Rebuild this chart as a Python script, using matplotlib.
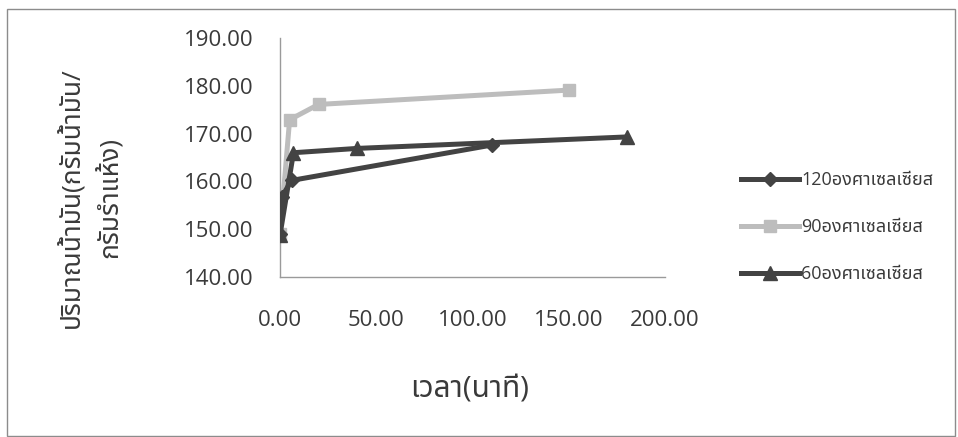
import matplotlib
matplotlib.use("Agg")
import matplotlib.pyplot as plt
from matplotlib.ticker import FormatStrFormatter, MultipleLocator

plt.rcParams['font.family'] = ['Open Sans', 'Noto Sans Thai', 'Anuphan', 'DejaVu Sans']

# Oil yield over extraction time at three temperatures
time_120 = [0, 1, 6, 110]
oil_120 = [149.0, 156.8, 160.2, 167.6]

time_90 = [0, 5, 20, 150]
oil_90 = [149.0, 172.9, 176.1, 179.1]

time_60 = [0, 7, 40, 180]
oil_60 = [148.8, 166.0, 166.9, 169.3]

series_labels = ['120องศาเซลเซียส', '90องศาเซลเซียส', '60องศาเซลเซียส']
x_label = 'เวลา(นาที)'
y_label = 'ปริมาณน้ำมัน(กรัมน้ำมัน/\nกรัมรำแห้ง)'

dark = '#434343'
light = '#bdbdbd'
text_col = '#3a3a3a'

fig = plt.figure(figsize=(9.58, 4.37), dpi=100)
ax = fig.add_axes([280 / 958, 1 - 277 / 437, 385 / 958, 239 / 437])

ax.plot(time_120, oil_120, color=dark, lw=3.6, marker='D', ms=7, zorder=3,
        label=series_labels[0])
ax.plot(time_90, oil_90, color=light, lw=3.6, marker='s', ms=9, zorder=2,
        label=series_labels[1])
ax.plot(time_60, oil_60, color=dark, lw=3.6, marker='^', ms=10, zorder=4,
        label=series_labels[2])

ax.set_xlim(0, 200)
ax.set_ylim(140, 190)
ax.xaxis.set_major_locator(MultipleLocator(50))
ax.yaxis.set_major_locator(MultipleLocator(10))
ax.xaxis.set_major_formatter(FormatStrFormatter('%.2f'))
ax.yaxis.set_major_formatter(FormatStrFormatter('%.2f'))
ax.tick_params(axis='both', length=0, labelsize=16, colors=text_col)
ax.tick_params(axis='y', pad=19)
ax.tick_params(axis='x', pad=24)

for side in ('top', 'right'):
    ax.spines[side].set_visible(False)
for side in ('left', 'bottom'):
    ax.spines[side].set_color('#9a9a9a')
    ax.spines[side].set_linewidth(1.0)

fig.text(470 / 958, 1 - 390 / 437, x_label, ha='center', va='center',
         fontsize=21.5, color=text_col)
fig.text(91 / 958, 1 - 198 / 437, y_label, ha='center', va='center',
         rotation=90, fontsize=19, color=text_col, linespacing=1.5,
         multialignment='center')

leg = ax.legend(loc='center left', frameon=False, fontsize=13,
                handlelength=3.2, handletextpad=0.15, labelspacing=1.6,
                labelcolor=text_col, borderpad=0, borderaxespad=0)
leg.set_bbox_to_anchor((741 / 958, 1 - 227 / 437), transform=fig.transFigure)

# chart frame
fig.add_artist(plt.Rectangle((7 / 958, 1 / 437), 948 / 958, 427 / 437,
                             transform=fig.transFigure, fill=False,
                             edgecolor='#8c8c8c', lw=1.0))

fig.savefig('out.png', dpi=100, facecolor='white')
